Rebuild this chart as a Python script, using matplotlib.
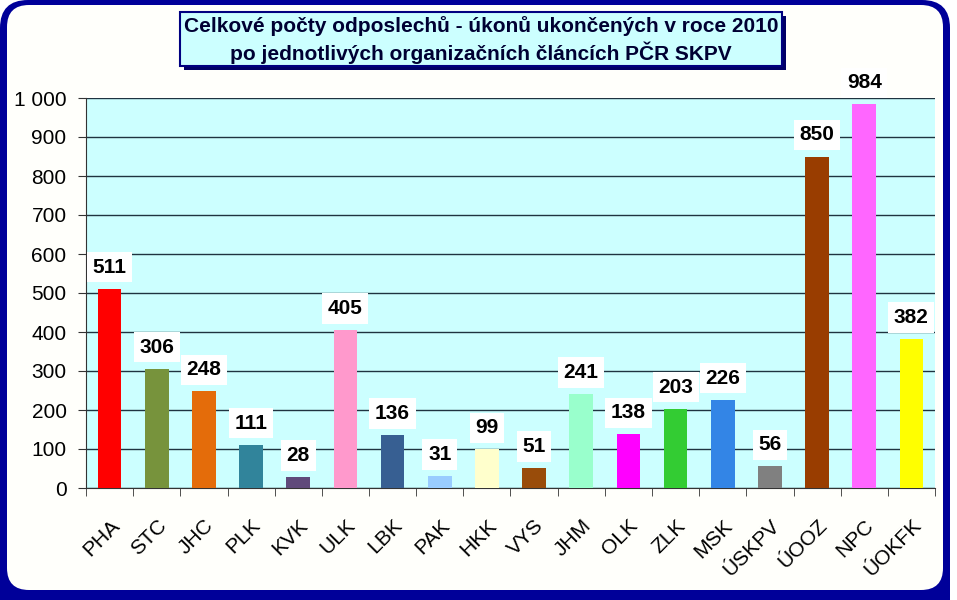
import matplotlib.pyplot as plt
from matplotlib.patches import FancyBboxPatch, Rectangle
from matplotlib.ticker import FixedLocator

plt.rcParams['font.family'] = ['Liberation Sans', 'DejaVu Sans']

# data
kategorie = ['PHA', 'STC', 'JHC', 'PLK', 'KVK', 'ULK', 'LBK', 'PAK', 'HKK',
             'VYS', 'JHM', 'OLK', 'ZLK', 'MSK', 'ÚSKPV', 'ÚOOZ', 'NPC', 'ÚOKFK']
hodnoty = [511, 306, 248, 111, 28, 405, 136, 31, 99,
           51, 241, 138, 203, 226, 56, 850, 984, 382]
barvy = ['#FF0000', '#77933C', '#E46C0A', '#31849B', '#604A7B', '#FF99CC',
         '#375F92', '#99CCFF', '#FFFFCC', '#994C0A', '#99FFCC', '#FF00FF',
         '#33CC33', '#3385E6', '#808080', '#993D00', '#FF66FF', '#FFFF00']
y_ticks = [0, 100, 200, 300, 400, 500, 600, 700, 800, 900, 1000]
y_labels = ['0', '100', '200', '300', '400', '500', '600', '700', '800', '900', '1 000']
titulek = ('Celkové počty odposlechů - úkonů ukončených v roce 2010\n'
           'po jednotlivých organizačních článcích PČR SKPV')

fig = plt.figure(figsize=(9.57, 6), dpi=100)
fig.patch.set_facecolor('white')

# pozadi s ramem (pixelove souradnice)
bg = fig.add_axes([0, 0, 1, 1], zorder=-1)
bg.set_xlim(0, 957)
bg.set_ylim(600, 0)
bg.axis('off')
bg.add_patch(FancyBboxPatch((28, 22), 929 - 28, 640, boxstyle='round,pad=0,rounding_size=28',
                            fc='black', ec='none'))
bg.add_patch(FancyBboxPatch((0, 0), 950, 640, boxstyle='round,pad=0,rounding_size=28',
                            fc='#000099', ec='none'))
bg.add_patch(FancyBboxPatch((7, 5), 936, 585, boxstyle='round,pad=0,rounding_size=22',
                            fc='#FFFFFB', ec='none'))

# titulek
bg.add_patch(Rectangle((184, 16), 602, 54, fc='#000066', ec='none'))
bg.add_patch(Rectangle((180, 12), 602, 54, fc='#CCFFFF', ec='#000080', lw=1.5))
bg.text(481, 40, titulek, ha='center', va='center', fontsize=15,
        fontweight='bold', color='#000033', linespacing=1.25)

# graf
ax = fig.add_axes([86 / 957, 1 - 488 / 600, (935 - 86) / 957, 390 / 600])
ax.set_facecolor('#CCFFFF')
x = range(len(kategorie))
ax.bar(x, hodnoty, width=0.5, color=barvy, zorder=3)
ax.set_xlim(-0.5, len(kategorie) - 0.5)
ax.set_ylim(0, 1000)

ax.set_yticks(y_ticks)
ax.set_yticklabels(y_labels, fontsize=15)
ax.yaxis.grid(True, color='#1F3340', lw=1, zorder=0)
ax.tick_params(axis='y', direction='out', length=6, pad=8, color='#333333')

ax.set_xticks(list(x))
ax.set_xticklabels(kategorie, fontsize=15, rotation=45, ha='right', va='top',
                   rotation_mode='anchor')
ax.xaxis.set_minor_locator(FixedLocator([i - 0.5 for i in range(len(kategorie) + 1)]))
ax.tick_params(axis='x', which='major', length=0, pad=20)
ax.tick_params(axis='x', which='minor', direction='out', length=6, color='#333333')

for s in ['top', 'right']:
    ax.spines[s].set_visible(False)
for s in ['left', 'bottom']:
    ax.spines[s].set_color('#333333')

for i, v in zip(x, hodnoty):
    ax.annotate(str(v), (i, v), xytext=(0, 15.5), textcoords='offset points',
                ha='center', va='center', fontsize=15, fontweight='bold',
                bbox=dict(fc='white', ec='none', pad=4), zorder=5,
                annotation_clip=False)

fig.savefig('out.png', dpi=100)
